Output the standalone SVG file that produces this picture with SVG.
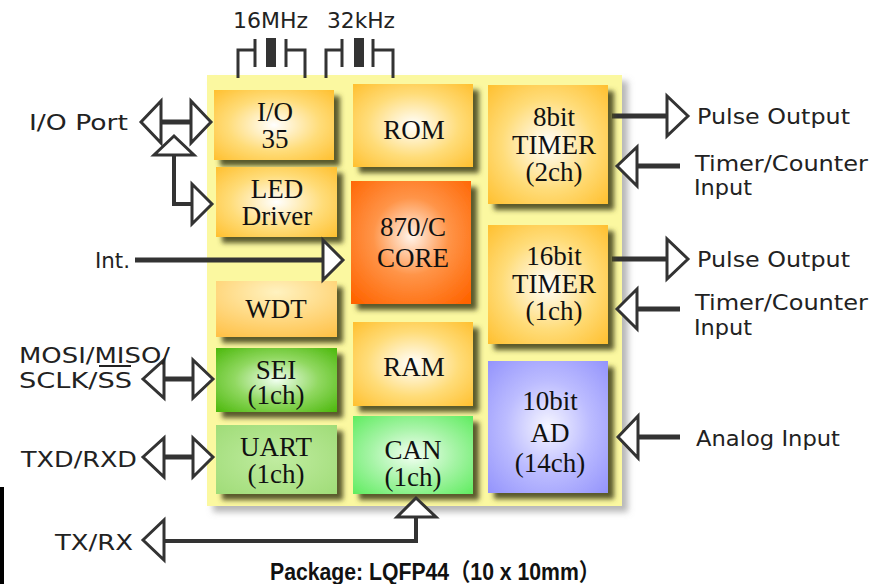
<svg xmlns="http://www.w3.org/2000/svg" width="883" height="584" viewBox="0 0 883 584">
<style>
.bx{font-family:"Liberation Serif","Times New Roman",serif;font-size:27px;fill:#111;text-anchor:middle}
.lb{font-family:"DejaVu Sans","Liberation Sans",sans-serif;font-size:22px;fill:#222}
.ln{stroke:#333;stroke-width:5;fill:none}
.ln4{stroke:#333;stroke-width:4;fill:none}
.ah{fill:#fff;stroke:#333;stroke-width:3;stroke-linejoin:miter}
.xt{stroke:#333;stroke-width:3;fill:none}
</style>
<defs>
<filter id="sh" x="-10%" y="-10%" width="130%" height="130%">
<feGaussianBlur in="SourceAlpha" stdDeviation="2.5"/>
<feOffset dx="6" dy="6" result="b"/>
<feFlood flood-color="#484820" flood-opacity="0.9"/>
<feComposite in2="b" operator="in"/>
<feMerge><feMergeNode/><feMergeNode in="SourceGraphic"/></feMerge>
</filter>
<filter id="bgsh" x="-5%" y="-5%" width="115%" height="115%">
<feGaussianBlur in="SourceAlpha" stdDeviation="3"/>
<feOffset dx="6" dy="6" result="b"/>
<feFlood flood-color="#888" flood-opacity="0.6"/>
<feComposite in2="b" operator="in"/>
<feMerge><feMergeNode/><feMergeNode in="SourceGraphic"/></feMerge>
</filter>
<radialGradient id="gOr" cx="50%" cy="50%" r="70%"><stop offset="0" stop-color="#ffffff"/><stop offset="0.55" stop-color="#ffdc78"/><stop offset="1" stop-color="#ffc030"/></radialGradient>
<radialGradient id="gWd" cx="50%" cy="20%" r="90%"><stop offset="0" stop-color="#fff2c0"/><stop offset="1" stop-color="#ffc24a"/></radialGradient>
<radialGradient id="gCo" cx="50%" cy="45%" r="70%"><stop offset="0" stop-color="#fff4ea"/><stop offset="0.45" stop-color="#ff9448"/><stop offset="1" stop-color="#ff6400"/></radialGradient>
<radialGradient id="gSe" cx="50%" cy="50%" r="70%"><stop offset="0" stop-color="#f0fff0"/><stop offset="0.5" stop-color="#90d860"/><stop offset="1" stop-color="#4cb80c"/></radialGradient>
<radialGradient id="gUa" cx="50%" cy="50%" r="70%"><stop offset="0" stop-color="#c0eca0"/><stop offset="1" stop-color="#a0dc78"/></radialGradient>
<radialGradient id="gCa" cx="50%" cy="50%" r="70%"><stop offset="0" stop-color="#f4fff4"/><stop offset="0.5" stop-color="#a6f4a6"/><stop offset="1" stop-color="#60ec60"/></radialGradient>
<radialGradient id="gAd" cx="50%" cy="50%" r="70%"><stop offset="0" stop-color="#f6f6ff"/><stop offset="0.5" stop-color="#bcbcff"/><stop offset="1" stop-color="#9494fc"/></radialGradient>
</defs>
<rect width="883" height="584" fill="#fff"/>
<rect x="0" y="487" width="4" height="97" fill="#000"/>
<rect id="chip" x="207" y="75" width="415" height="431" fill="#fbf8a0" filter="url(#bgsh)"/>

<g id="crystals">
<text class="lb" x="233" y="28" textLength="75" lengthAdjust="spacingAndGlyphs">16MHz</text>
<text class="lb" x="327" y="28" textLength="68" lengthAdjust="spacingAndGlyphs">32kHz</text>
<polyline class="xt" points="238,78 238,50 255,50"/>
<line class="xt" x1="255" y1="39" x2="255" y2="67"/>
<rect x="266" y="38" width="10" height="29" fill="#333"/>
<line class="xt" x1="286" y1="39" x2="286" y2="67"/>
<polyline class="xt" points="286,50 305,50 305,78"/>
<polyline class="xt" points="326,78 326,50 342,50"/>
<line class="xt" x1="342" y1="39" x2="342" y2="67"/>
<rect x="354" y="38" width="10" height="29" fill="#333"/>
<line class="xt" x1="373" y1="39" x2="373" y2="67"/>
<polyline class="xt" points="373,50 393,50 393,78"/>
</g>

<g id="connectors">
<line class="ln" x1="612" y1="116" x2="667" y2="116"/>
<line class="ln" x1="637" y1="166" x2="680" y2="166"/>
<line class="ln" x1="612" y1="259" x2="667" y2="259"/>
<line class="ln" x1="637" y1="309" x2="680" y2="309"/>
<line class="ln" x1="638" y1="437" x2="680" y2="437"/>
<line class="ln" x1="160" y1="122" x2="192" y2="122"/>
<polyline class="ln4" points="174,155 174,204 192,204"/>
<line class="ln" x1="135" y1="260" x2="325" y2="260"/>
<line class="ln" x1="164" y1="379" x2="193" y2="379"/>
<line class="ln" x1="164" y1="457" x2="193" y2="457"/>
<polyline class="ln4" points="164,541 416,541 416,517"/>
</g>

<g id="io35"><rect x="214" y="90" width="120" height="70" fill="url(#gOr)" filter="url(#sh)"/><text class="bx" x="275" y="121">I/O</text><text class="bx" x="275" y="148">35</text></g>
<g id="led"><rect x="216" y="167" width="121" height="70" fill="url(#gOr)" filter="url(#sh)"/><text class="bx" x="277" y="198">LED</text><text class="bx" x="277" y="225">Driver</text></g>
<g id="rom"><rect x="353" y="84" width="120" height="83" fill="url(#gOr)" filter="url(#sh)"/><text class="bx" x="414" y="139">ROM</text></g>
<g id="core"><rect x="351" y="181" width="120" height="123" fill="url(#gCo)" filter="url(#sh)"/><text class="bx" x="413" y="236">870/C</text><text class="bx" x="413" y="267">CORE</text></g>
<g id="timer8"><rect x="488" y="85" width="120" height="119" fill="url(#gOr)" filter="url(#sh)"/><text class="bx" x="554" y="126">8bit</text><text class="bx" x="554" y="154">TIMER</text><text class="bx" x="554" y="181">(2ch)</text></g>
<g id="timer16"><rect x="488" y="225" width="120" height="119" fill="url(#gOr)" filter="url(#sh)"/><text class="bx" x="554" y="265">16bit</text><text class="bx" x="554" y="293">TIMER</text><text class="bx" x="554" y="320">(1ch)</text></g>
<g id="wdt"><rect x="216" y="281" width="121" height="56" fill="url(#gWd)" filter="url(#sh)"/><text class="bx" x="276" y="318">WDT</text></g>
<g id="sei"><rect x="216" y="348" width="121" height="64" fill="url(#gSe)" filter="url(#sh)"/><text class="bx" x="276" y="379">SEI</text><text class="bx" x="276" y="404">(1ch)</text></g>
<g id="ram"><rect x="353" y="322" width="120" height="84" fill="url(#gOr)" filter="url(#sh)"/><text class="bx" x="414" y="376">RAM</text></g>
<g id="uart"><rect x="216" y="425" width="121" height="69" fill="url(#gUa)" filter="url(#sh)"/><text class="bx" x="276" y="456">UART</text><text class="bx" x="276" y="483">(1ch)</text></g>
<g id="can"><rect x="353" y="416" width="120" height="78" fill="url(#gCa)" filter="url(#sh)"/><text class="bx" x="413" y="459">CAN</text><text class="bx" x="413" y="486">(1ch)</text></g>
<g id="ad"><rect x="488" y="361" width="120" height="132" fill="url(#gAd)" filter="url(#sh)"/><text class="bx" x="550" y="410">10bit</text><text class="bx" x="550" y="442">AD</text><text class="bx" x="550" y="472">(14ch)</text></g>

<g id="arrowheads">
<polygon class="ah" points="141,122 161,101 161,143"/>
<polygon class="ah" points="211,122 191,101 191,143"/>
<polygon class="ah" points="174,136 154,155 194,155"/>
<polygon class="ah" points="212,204 192,184 192,224"/>
<polygon class="ah" points="343,260 323,240 323,280"/>
<polygon class="ah" points="143,379 164,360 164,398"/>
<polygon class="ah" points="213,379 193,360 193,398"/>
<polygon class="ah" points="143,457 164,438 164,477"/>
<polygon class="ah" points="213,457 193,438 193,477"/>
<polygon class="ah" points="143,540 164,520 164,560"/>
<polygon class="ah" points="416,498 397,517 436,517"/>
<polygon class="ah" points="688,116 667,96 667,136"/>
<polygon class="ah" points="617,166 637,147 637,186"/>
<polygon class="ah" points="688,259 667,239 667,279"/>
<polygon class="ah" points="617,309 637,289 637,329"/>
<polygon class="ah" points="618,437 638,416 638,458"/>
</g>

<g id="labels">
<text class="lb" x="29" y="130" textLength="99" lengthAdjust="spacingAndGlyphs">I/O Port</text>
<text class="lb" x="95" y="268" textLength="35" lengthAdjust="spacingAndGlyphs">Int.</text>
<text class="lb" x="19" y="363" textLength="151" lengthAdjust="spacingAndGlyphs">MOSI/MISO/</text>
<text class="lb" x="19" y="388" textLength="113" lengthAdjust="spacingAndGlyphs">SCLK/SS</text>
<line x1="99" y1="366" x2="131" y2="366" stroke="#222" stroke-width="2"/>
<text class="lb" x="21" y="467" textLength="116" lengthAdjust="spacingAndGlyphs">TXD/RXD</text>
<text class="lb" x="55" y="550" textLength="78" lengthAdjust="spacingAndGlyphs">TX/RX</text>
<text class="lb" x="697" y="124" textLength="153" lengthAdjust="spacingAndGlyphs">Pulse Output</text>
<text class="lb" x="695" y="171" textLength="173" lengthAdjust="spacingAndGlyphs">Timer/Counter</text>
<text class="lb" x="694" y="195" textLength="58" lengthAdjust="spacingAndGlyphs">Input</text>
<text class="lb" x="697" y="267" textLength="153" lengthAdjust="spacingAndGlyphs">Pulse Output</text>
<text class="lb" x="695" y="310" textLength="173" lengthAdjust="spacingAndGlyphs">Timer/Counter</text>
<text class="lb" x="694" y="335" textLength="58" lengthAdjust="spacingAndGlyphs">Input</text>
<text class="lb" x="696" y="446" textLength="144" lengthAdjust="spacingAndGlyphs">Analog Input</text>
<text x="270" y="580" font-family="'Liberation Sans','Noto Sans CJK JP',sans-serif" font-size="24" font-weight="bold" fill="#111" textLength="330" lengthAdjust="spacingAndGlyphs">Package: LQFP44（10 x 10mm）</text>
</g>
</svg>
